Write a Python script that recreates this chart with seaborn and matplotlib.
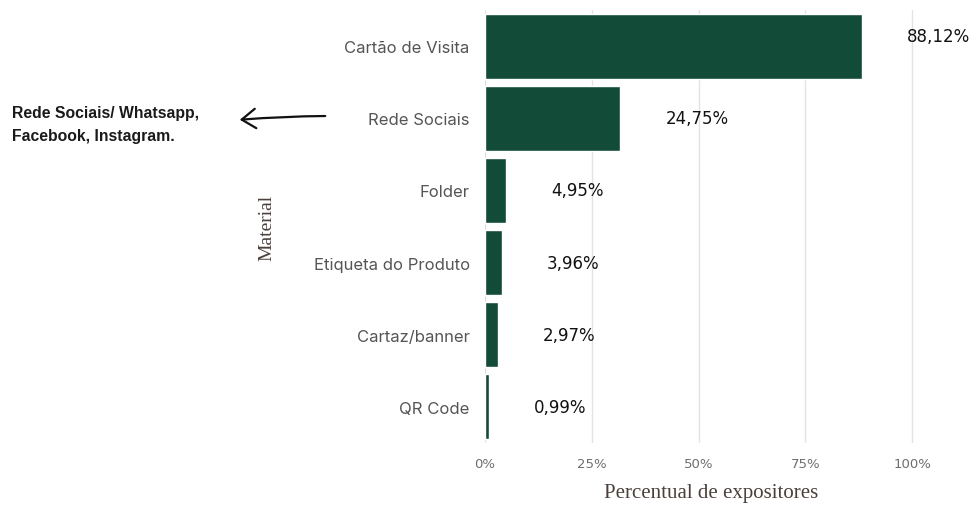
import matplotlib
matplotlib.use("Agg")
import matplotlib.pyplot as plt
import seaborn as sns
import pandas as pd
from matplotlib.ticker import FuncFormatter

categories = ["Cartão de Visita", "Rede Sociais", "Folder", "Etiqueta do Produto", "Cartaz/banner", "QR Code"]
bar_values = [88.12, 31.7, 4.95, 3.96, 2.97, 0.99]
value_labels = ["88,12%", "24,75%", "4,95%", "3,96%", "2,97%", "0,99%"]
x_ticks = [0, 25, 50, 75, 100]

df = pd.DataFrame({"Material": categories, "Percentual": bar_values})

sns.set_theme(style="white")
plt.rcParams['font.family'] = ['Inter', 'DejaVu Sans']

fig = plt.figure(figsize=(9.77, 5.10), dpi=100)
ax = fig.add_axes([485/977, 66/510, 470/977, 433/510])

sns.barplot(data=df, y="Material", x="Percentual", orient="h", color="#124c38",
            width=0.9, ax=ax, saturation=1, zorder=3)

ax.set_xlim(0, 110)
ax.set_ylim(5.5, -0.5)
ax.set_xticks(x_ticks)
ax.xaxis.set_major_formatter(FuncFormatter(lambda v, p: f"{v:.0f}%"))
ax.tick_params(axis="x", length=0, labelsize=9.5, labelcolor="#6e6e6e", pad=10)
ax.tick_params(axis="y", length=0, labelsize=12, labelcolor="#555555", pad=11)
for t in ax.get_xticklabels():
    t.set_fontfamily(["DejaVu Sans"])
for t in ax.get_yticklabels():
    t.set_fontfamily(["Inter", "DejaVu Sans"])
for s in ax.spines.values():
    s.set_visible(False)
ax.grid(axis="x", color="#e3e3e3", linewidth=1, zorder=0)
ax.set_axisbelow(True)

ax.set_xlabel("Percentual de expositores", family=["Liberation Serif"], fontsize=15,
              color="#4a3f3a", va="center")
ax.xaxis.set_label_coords((711 - 485) / 470, -(494 - 444) / 433)
ax.set_ylabel("Material", family=["Liberation Serif"], fontsize=14, color="#4a3f3a")
ax.yaxis.set_label_coords(-(485 - 275) / 470, 0.5)

y_shift = [-0.14, 0, 0, 0, 0, 0]
for i, (v, lab) in enumerate(zip(bar_values, value_labels)):
    ax.text(v + 10.5, i + y_shift[i], lab, ha="left", va="center", fontsize=12,
            color="#111111", family=["DejaVu Sans"], clip_on=False)

fig.text(12/977, 1 - 125/510, "Rede Sociais/ Whatsapp,\nFacebook, Instagram.",
         ha="left", va="center", fontsize=11.3, fontweight="bold", color="#1a1a1a",
         linespacing=1.65, family=["Liberation Sans", "DejaVu Sans"])
fig.patches.append(matplotlib.patches.FancyArrowPatch(
    (328/977, 1 - 117/510), (237/977, 1 - 121/510), transform=fig.transFigure,
    arrowstyle="->,head_length=10,head_width=7", color="#111111", lw=1.6,
    connectionstyle="arc3,rad=0.02"))

fig.savefig("out.png", dpi=100)
